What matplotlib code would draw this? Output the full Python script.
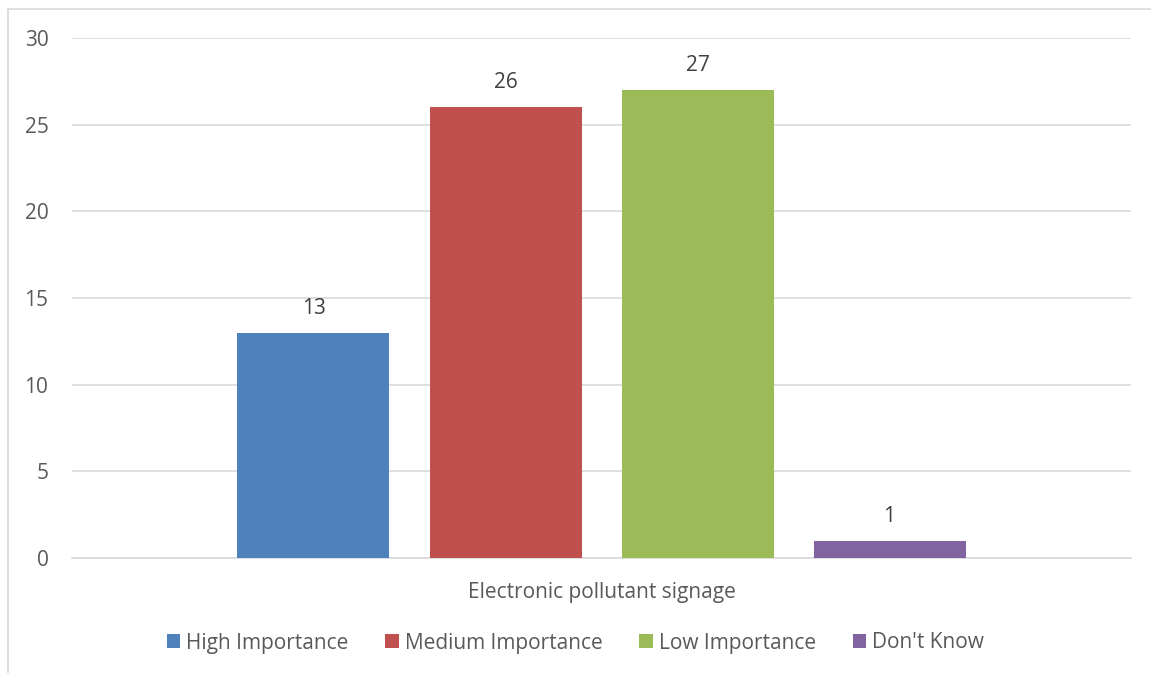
import matplotlib.pyplot as plt
from matplotlib.patches import Rectangle

category = 'Electronic pollutant signage'
series = ['High Importance', 'Medium Importance', 'Low Importance', "Don't Know"]
values = [13, 26, 27, 1]
colors = ['#4F81BD', '#C0504D', '#9BBB59', '#8064A2']

plt.rcParams['font.family'] = ['Open Sans', 'DejaVu Sans']
txt = '#595959'
fs = 15

fig = plt.figure(figsize=(11.51, 6.73), dpi=100)
ax = fig.add_axes([72 / 1151, 1 - 558 / 673, 1059 / 1151, 520 / 673])

# outer chart border (only left and top visible in the crop)
fig.patches.append(Rectangle((8 / 1151, -0.1), 1.2, 1.1 - 9 / 673,
                             transform=fig.transFigure, fill=False,
                             edgecolor='#d9d9d9', lw=1.2))

width = 152 / 1059
step = 192 / 1059
for i, (name, v, c) in enumerate(zip(series, values, colors)):
    x = (i - 1.5) * step
    bars = ax.bar(x, v, width=width, color=c, label=name, zorder=3)
    ax.bar_label(bars, padding=10, fontsize=fs, color='#404040')

ax.set_xlim(-0.5, 0.5)
ax.set_ylim(0, 30)
ax.set_yticks(range(0, 31, 5))
ax.yaxis.grid(True, color='#d9d9d9', lw=1.2, zorder=0)
ax.set_xticks([0])
ax.set_xticklabels([category])
ax.tick_params(axis='x', length=0, pad=17, labelsize=fs, labelcolor=txt)
ax.tick_params(axis='y', length=0, pad=17, labelsize=fs, labelcolor=txt)
for s in ['top', 'right', 'left']:
    ax.spines[s].set_visible(False)
ax.spines['bottom'].set_color('#d9d9d9')
ax.spines['bottom'].set_linewidth(1.2)

fig.legend(loc='center', bbox_to_anchor=(0.5, 1 - 643 / 673), ncol=4,
           frameon=False, fontsize=fs, labelcolor=txt,
           handlelength=0.65, handleheight=0.65, handletextpad=0.3,
           columnspacing=1.75)

fig.savefig('out.png', dpi=100)
